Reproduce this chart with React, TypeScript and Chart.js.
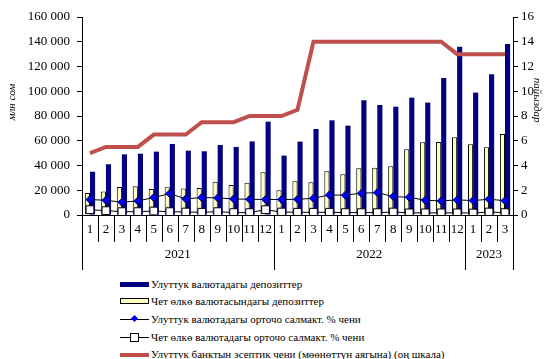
import React, { useEffect, useRef } from "react";
import { Chart, registerables } from "chart.js";

Chart.register(...registerables);

// Month labels, 2021-01 .. 2023-03
const months = [
  "1", "2", "3", "4", "5", "6", "7", "8", "9", "10", "11", "12",
  "1", "2", "3", "4", "5", "6", "7", "8", "9", "10", "11", "12",
  "1", "2", "3",
];
const years = ["2021", "2022", "2023"];
const yearMonthCounts = [12, 12, 3];

// Deposits, млн сом (left scale)
const nationalDeposits = [
  35000, 41000, 49000, 49500, 51200, 57400, 52000, 51500, 56600, 55000, 59500, 75400,
  48000, 59300, 69500, 76500, 72200, 92700, 88900, 87500, 94800, 90800, 110700, 136000,
  98900, 113700, 138200,
];
const foreignDeposits = [
  17800, 18900, 22600, 23200, 21000, 22400, 21500, 21800, 26900, 24200, 26100, 34500,
  19900, 27200, 26400, 35300, 32900, 37700, 38200, 39300, 53100, 58700, 59000, 62800,
  57200, 54700, 65500,
];

// Rates, % (right scale)
const nationalRate = [
  1.25, 1.19, 1.03, 1.14, 1.41, 1.73, 1.3, 1.41, 1.38, 1.3, 1.27, 1.26,
  1.25, 1.27, 1.35, 1.62, 1.6, 1.76, 1.81, 1.49, 1.43, 1.19, 1.14, 1.22,
  1.17, 1.27, 1.16,
];
const foreignRate = [
  0.43, 0.35, 0.27, 0.27, 0.32, 0.27, 0.24, 0.22, 0.27, 0.19, 0.19, 0.43,
  0.24, 0.22, 0.22, 0.22, 0.19, 0.19, 0.19, 0.24, 0.17, 0.17, 0.17, 0.17,
  0.16, 0.24, 0.19,
];
const policyRate = [
  5.0, 5.5, 5.5, 5.5, 6.5, 6.5, 6.5, 7.5, 7.5, 7.5, 8.0, 8.0,
  8.0, 8.5, 14, 14, 14, 14, 14, 14, 14, 14, 14, 13,
  13, 13, 13,
];

const seriesNames = [
  "Улуттук валютадагы депозиттер",
  "Чет өлкө валютасындагы депозиттер",
  "Улуттук валютадагы орточо салмакт. % чени",
  "Чет өлкө валютадагы орточо салмакт. % чени",
  "Улуттук банктын эсептик чени  (мөөнөттүн аягына) (оң шкала)",
];

const NAVY = "#000080";
const CREAM = "#FFFFC0";
const DIAMOND = "#0000FF";
const RED = "#C0504D";
const SERIF = "'Liberation Serif', 'Times New Roman', serif";

const fmtThousands = (v: number) =>
  String(v).replace(/\B(?=(\d{3})+(?!\d))/g, " ");

// Two-level category axis: month separators plus year groups below
const groupAxisPlugin = {
  id: "groupAxis",
  afterDraw(chart: any) {
    const x = chart.scales.x;
    const ctx = chart.ctx;
    const top = chart.chartArea.bottom;
    ctx.save();
    ctx.strokeStyle = "#000";
    ctx.lineWidth = 1;
    const yearEdges = new Set<number>([0]);
    let acc = 0;
    yearMonthCounts.forEach((c) => {
      acc += c;
      yearEdges.add(acc);
    });
    for (let i = 0; i <= months.length; i++) {
      const px = Math.round(x.getPixelForValue(i - 0.5)) + 0.5;
      const len = yearEdges.has(i) ? 55 : 27;
      ctx.beginPath();
      ctx.moveTo(px, top);
      ctx.lineTo(px, top + len);
      ctx.stroke();
    }
    ctx.fillStyle = "#000";
    ctx.font = `13px ${SERIF}`;
    ctx.textAlign = "center";
    ctx.textBaseline = "middle";
    let start = 0;
    years.forEach((label, k) => {
      const n = yearMonthCounts[k];
      const cx = x.getPixelForValue(start + (n - 1) / 2);
      ctx.fillText(label, cx, top + 40);
      start += n;
    });

    // axis titles
    const area = chart.chartArea;
    ctx.font = `italic 11px ${SERIF}`;
    ctx.save();
    ctx.translate(12, area.top + area.height * 0.43);
    ctx.rotate(-Math.PI / 2);
    ctx.fillText("млн сом", 0, 0);
    ctx.restore();
    ctx.save();
    ctx.translate(537, area.top + area.height * 0.42);
    ctx.rotate(Math.PI / 2);
    ctx.fillText("пайыздар", 0, 0);
    ctx.restore();
    ctx.restore();
  },
};

function LegendRow({ kind, text }: { kind: number; text: string }) {
  let swatch: React.ReactNode = null;
  const box: React.CSSProperties = {
    position: "relative",
    width: 29,
    height: 12,
    marginRight: 2,
    flex: "none",
  };
  if (kind === 0) {
    swatch = (
      <div style={box}>
        <div style={{ position: "absolute", left: 0, top: 4, width: 29, height: 5, background: NAVY }} />
      </div>
    );
  } else if (kind === 1) {
    swatch = (
      <div style={box}>
        <div
          style={{
            position: "absolute", left: 0, top: 3, width: 27, height: 4,
            background: CREAM, border: "1px solid #000",
          }}
        />
      </div>
    );
  } else if (kind === 2 || kind === 3) {
    swatch = (
      <div style={box}>
        <div style={{ position: "absolute", left: 0, top: 6, width: 29, height: 1, background: "#000" }} />
        {kind === 2 ? (
          <div
            style={{
              position: "absolute", left: 12, top: 3, width: 5, height: 5,
              background: DIAMOND, transform: "rotate(45deg)",
            }}
          />
        ) : (
          <div
            style={{
              position: "absolute", left: 10, top: 2, width: 7, height: 7,
              background: "#fff", border: "1px solid #000",
            }}
          />
        )}
      </div>
    );
  } else {
    swatch = (
      <div style={box}>
        <div style={{ position: "absolute", left: 0, top: 5, width: 29, height: 4, background: RED }} />
      </div>
    );
  }
  return (
    <div style={{ display: "flex", alignItems: "center", height: 17.6 }}>
      {swatch}
      <span style={{ fontFamily: SERIF, fontSize: 11, color: "#000", whiteSpace: "nowrap" }}>{text}</span>
    </div>
  );
}

export default function App() {
  const canvasRef = useRef<HTMLCanvasElement | null>(null);

  useEffect(() => {
    const canvas = canvasRef.current;
    if (!canvas) return;
    const chart = new Chart(canvas, {
      type: "bar",
      data: {
        labels: months,
        datasets: [
          {
            type: "line",
            label: seriesNames[4],
            data: policyRate,
            yAxisID: "y1",
            borderColor: RED,
            borderWidth: 4,
            pointRadius: 0,
            tension: 0,
            order: 0,
          } as any,
          {
            type: "line",
            label: seriesNames[2],
            data: nationalRate,
            yAxisID: "y1",
            borderColor: "#000",
            borderWidth: 1,
            pointStyle: "rectRot",
            pointRadius: 4,
            pointBackgroundColor: DIAMOND,
            pointBorderColor: "#000060",
            pointBorderWidth: 1,
            tension: 0,
            order: 1,
          } as any,
          {
            type: "line",
            label: seriesNames[3],
            data: foreignRate,
            yAxisID: "y1",
            borderColor: "#000",
            borderWidth: 1,
            pointStyle: "rect",
            pointRadius: 5.5,
            pointBackgroundColor: "#fff",
            pointBorderColor: "#000",
            pointBorderWidth: 1,
            tension: 0,
            order: 2,
          } as any,
          {
            label: seriesNames[0],
            data: nationalDeposits,
            yAxisID: "y",
            backgroundColor: NAVY,
            borderWidth: 0,
            barPercentage: 1,
            categoryPercentage: 0.64,
            order: 4,
          },
          {
            label: seriesNames[1],
            data: foreignDeposits,
            yAxisID: "y",
            backgroundColor: CREAM,
            borderColor: "#000",
            borderWidth: 1,
            barPercentage: 1,
            categoryPercentage: 0.64,
            order: 3,
          },
        ],
      },
      options: {
        responsive: false,
        animation: false,
        devicePixelRatio: 1,
        layout: { padding: { top: 17, left: 0, right: 0, bottom: 0 } },
        plugins: {
          legend: { display: false },
          tooltip: { enabled: false },
        },
        scales: {
          x: {
            type: "category",
            offset: true,
            grid: { display: false, drawTicks: false },
            border: { color: "#000", width: 1 },
            ticks: {
              color: "#000",
              font: { family: SERIF, size: 13 },
              padding: 7,
              maxRotation: 0,
              autoSkip: false,
            },
            afterFit: (s: any) => {
              s.height = 60;
            },
          },
          y: {
            position: "left",
            min: 0,
            max: 160000,
            ticks: {
              stepSize: 20000,
              color: "#000",
              font: { family: SERIF, size: 13 },
              padding: 7,
              callback: (v: any) => fmtThousands(Number(v)),
            },
            grid: { drawOnChartArea: false, tickLength: 5, color: "#000" },
            border: { color: "#000", width: 1 },
            afterFit: (s: any) => {
              s.width = 82;
            },
          },
          y1: {
            position: "right",
            min: 0,
            max: 16,
            ticks: {
              stepSize: 2,
              color: "#000",
              font: { family: SERIF, size: 13 },
              padding: 3,
            },
            grid: { drawOnChartArea: false, tickLength: 5, color: "#000" },
            border: { color: "#000", width: 1 },
            afterFit: (s: any) => {
              s.width = 31;
            },
          },
        },
      },
      plugins: [groupAxisPlugin],
    });
    return () => chart.destroy();
  }, []);

  return (
    <div
      style={{
        position: "absolute",
        left: 0,
        top: 0,
        width: 544,
        height: 359,
        background: "#fff",
        overflow: "hidden",
      }}
    >
      <canvas ref={canvasRef} width={544} height={275} style={{ display: "block" }} />
      <div style={{ position: "absolute", left: 120, top: 275 }}>
        {[0, 1, 2, 3, 4].map((k) => (
          <LegendRow key={k} kind={k} text={seriesNames[k]} />
        ))}
      </div>
    </div>
  );
}
